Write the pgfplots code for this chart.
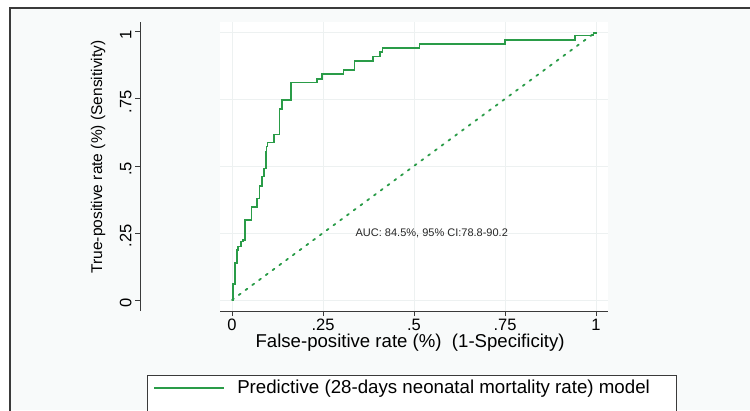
\documentclass[border=0pt]{standalone}
\usepackage{fontspec}
\setmainfont{Liberation Sans}
\usepackage{pgfplots}
\pgfplotsset{compat=1.18}
\definecolor{roc}{HTML}{2A9C48}
\definecolor{bgpanel}{HTML}{F8FAFA}
\definecolor{axgray}{HTML}{3A3A3A}
\definecolor{gridc}{HTML}{EDF1F1}

\begin{document}
\begin{tikzpicture}[x=1bp,y=1bp]
\useasboundingbox (0,0) rectangle (750,410);
\fill[white] (0,0) rectangle (750,410);
\fill[bgpanel] (10,0) rectangle (750,402);
\draw[axgray, line width=1.5bp] (10,-2) -- (10,402) -- (752,402);

\begin{axis}[
  at={(220bp,99bp)}, anchor=south west,
  scale only axis, width=388bp, height=289bp,
  xmin=-0.033, xmax=1.033, ymin=-0.041, ymax=1.037,
  axis background/.style={fill=white},
  axis x line=bottom, axis y line=left,
  axis y line shift=80bp,
  axis line style={-, draw=axgray, line width=0.9bp},
  xtick={0,0.25,0.5,0.75,1}, ytick={0,0.25,0.5,0.75,1},
  xticklabels={0,.25,.5,.75,1}, yticklabels={0,.25,.5,.75,1},
  tick align=outside, major tick length=5bp,
  tick style={draw=axgray, line width=0.9bp},
  grid=major, major grid style={draw=gridc, line width=0.8bp},
  ticklabel style={font=\fontsize{16.5bp}{18bp}\selectfont},
  xticklabel style={inner sep=0.5bp, yshift=-2bp},
  yticklabel style={rotate=90, anchor=south, xshift=-3bp},
  xlabel={False-positive rate (\%)\ \ (1-Specificity)},
  ylabel={True-positive rate (\%) (Sensitivity)},
  xlabel style={at={(axis description cs:0.49,0)}, anchor=north, yshift=-22bp,
    inner sep=0.5bp, font=\fontsize{18.6bp}{20bp}\selectfont},
  ylabel style={at={(axis description cs:-0.314,0.533)}, anchor=center,
    font=\fontsize{15.5bp}{18bp}\selectfont},
  legend cell align=left,
  legend image code/.code={\draw[#1, draw=roc, line width=1.3bp] (4bp,0bp) -- (74bp,0bp);
    \path (84bp,0bp);},
  legend style={at={(axis description cs:-0.188,-0.2215)}, anchor=north west,
    draw=axgray, line width=0.8bp, fill=white,
    font=\fontsize{18.7bp}{20bp}\selectfont, inner xsep=3bp, inner ysep=3bp},
]
\addplot[roc, line width=1.8bp, line cap=round, dash pattern=on 2.2bp off 6.2bp, forget plot]
  coordinates {(0,0) (1,1)};
\addplot[roc, line width=1.6bp] coordinates {
(0,0) (0.002,0) (0.002,0.060) (0.008,0.060) (0.008,0.137) (0.013,0.137)
(0.013,0.187) (0.017,0.187) (0.017,0.199) (0.024,0.199) (0.024,0.218)
(0.031,0.218) (0.031,0.224) (0.036,0.224) (0.036,0.299) (0.054,0.299)
(0.054,0.346) (0.068,0.346) (0.068,0.379) (0.075,0.379) (0.075,0.425)
(0.082,0.425) (0.082,0.460) (0.088,0.460) (0.088,0.491) (0.093,0.491)
(0.093,0.553) (0.095,0.553) (0.095,0.572) (0.098,0.572) (0.098,0.587)
(0.116,0.587) (0.116,0.618) (0.130,0.618) (0.130,0.712) (0.137,0.712)
(0.137,0.746) (0.162,0.746) (0.162,0.811) (0.234,0.811) (0.234,0.825)
(0.248,0.825) (0.248,0.843) (0.306,0.843) (0.306,0.858) (0.336,0.858)
(0.336,0.891) (0.388,0.891) (0.388,0.908) (0.407,0.908) (0.407,0.924)
(0.413,0.924) (0.413,0.939) (0.515,0.939) (0.515,0.955) (0.750,0.955)
(0.750,0.970) (0.942,0.970) (0.942,0.986) (0.993,0.986) (0.993,0.996)
(1,0.996) (1,1)};
\addlegendentry{\makebox[434bp][l]{Predictive (28-days neonatal mortality rate) model}}
\addlegendimage{empty legend}
\addlegendentry{\strut}
\node[anchor=west, font=\fontsize{11bp}{13bp}\selectfont, text=black!85]
  at (axis cs:0.33,0.25) {AUC: 84.5\%, 95\% CI:78.8-90.2};
\end{axis}
\end{tikzpicture}
\end{document}
